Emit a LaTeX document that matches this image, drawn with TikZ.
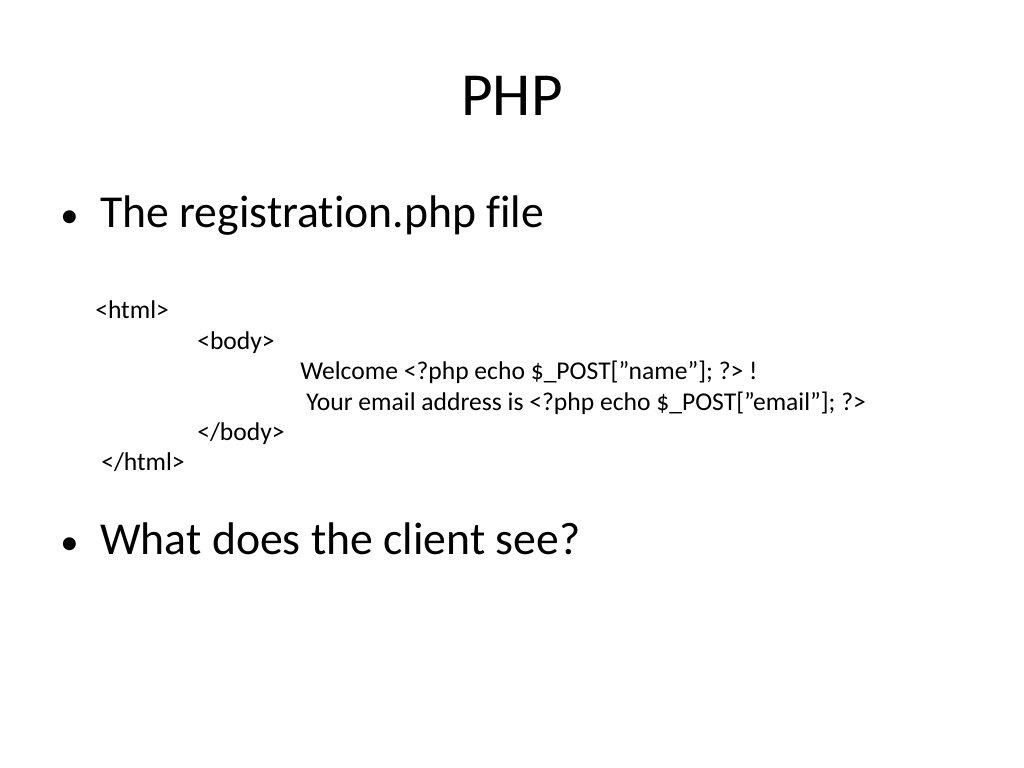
\documentclass[tikz,border=0pt]{standalone}
\usepackage{fontspec}
\setmainfont[Ligatures={NoCommon}]{Carlito}
\begin{document}
\begin{tikzpicture}[x=0.025cm,y=-0.025cm,
  bigtext/.style={anchor=base west,inner sep=0pt,font=\fontsize{32.5}{38}\selectfont},
  dotmark/.style={anchor=base west,inner sep=0pt,font=\fontsize{26}{30}\selectfont},
  codeline/.style={anchor=base west,inner sep=0pt,font=\fontsize{18.2}{22}\selectfont}]
  \useasboundingbox (0,0) rectangle (1024,768);
        % Titel
        \node[anchor=base,inner sep=0pt,font=\fontsize{43.5}{50}\selectfont] (title) at (512,116) {PHP};

        % Punkte
        \node[dotmark] (dotA) at (60,227) {\textbullet};
        \node[bigtext] (itemA) at (100,227) {The registration.php file};
        \node[dotmark] (dotB) at (60,554) {\textbullet};
        \node[bigtext] (itemB) at (100,554) {What does the client see?};

        % Code
        \node[codeline] (htmlopen) at (95,318) {<html>};
        \node[codeline] (bodyopen) at (197,349) {<body>};
        \node[codeline] (welcome) at (300,379) {Welcome <?php echo \$\_POST[\char34 name\char34]; ?> !};
        \node[codeline] (email) at (306,410) {Your email address is <?php echo \$\_POST[\char34 email\char34]; ?>};
        \node[codeline] (bodyclose) at (197,440) {</body>};
        \node[codeline] (htmlclose) at (101,470) {</html>};
\end{tikzpicture}
\end{document}
